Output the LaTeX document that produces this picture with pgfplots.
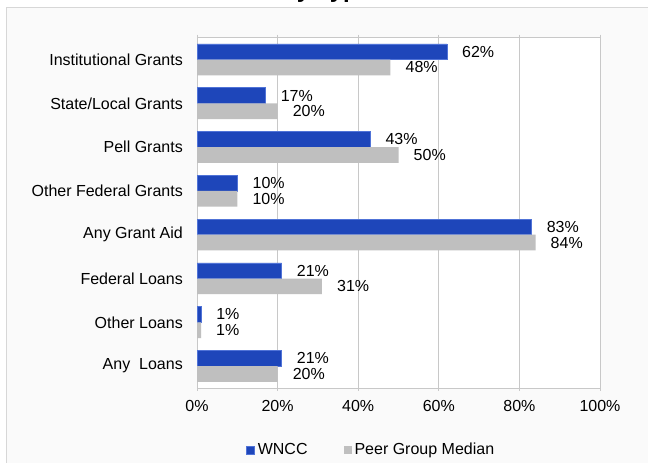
\documentclass[border=0pt]{standalone}
\usepackage{pgfplots}
\pgfplotsset{compat=1.18}
\usepackage{fontspec}
\setmainfont{Liberation Sans}
\definecolor{wblue}{RGB}{30,70,186}
\definecolor{wedge}{RGB}{80,115,215}
\definecolor{pgray}{RGB}{191,191,191}
\definecolor{gridc}{RGB}{200,200,200}
\definecolor{framec}{RGB}{215,215,215}
\definecolor{bgc}{RGB}{250,250,250}
\begin{document}
\fontsize{16bp}{19bp}\selectfont
\begin{tikzpicture}[x=1bp,y=1bp]
\useasboundingbox (0,0) rectangle (648,463);
\clip (0,0) rectangle (648,463);
\fill[white] (0,0) rectangle (648,463);
\fill[bgc] (6.5,-5) rectangle (660,455.5);
\draw[framec, line width=1bp] (6.5,-5) -- (6.5,455.5) -- (660,455.5);
\node[anchor=base west, inner sep=0pt, font=\fontsize{24bp}{28bp}\selectfont\bfseries] at (282,465.5) {by Type};
\begin{axis}[
  at={(197bp,75bp)}, anchor=south west,
  width=403bp, height=350.3bp, scale only axis,
  xbar, bar width=15.7bp,
  xmin=0, xmax=100,
  ymin=-0.5, ymax=7.5,
  axis background/.style={fill=white},
  axis line style={gridc},
  xtick={0,20,40,60,80,100},
  xticklabels={0\%,20\%,40\%,60\%,80\%,100\%},
  xmajorgrids, grid style={gridc, line width=0.8bp},
  tick align=outside,
  x tick style={gridc, line width=0.8bp},
  major tick length=3bp,
  xticklabel style={inner sep=0pt, yshift=-9bp},
  ytick={0,1,2,3,4,5,6,7},
  yticklabels={Any\ \ Loans,Other Loans,Federal Loans,Any Grant Aid,Other Federal Grants,Pell Grants,State/Local Grants,Institutional Grants},
  y tick style={draw=none},
  yticklabel style={inner sep=0pt, xshift=-11bp},
  /pgf/number format/assume math mode=true,
  nodes near coords={\pgfmathprintnumber{\pgfplotspointmeta}\%},
  every node near coord/.append style={anchor=west, inner sep=0pt, xshift=15bp, black},
  legend columns=2,
  legend style={draw=none, fill=none, at={(0.1216,-0.177)}, anchor=west,
    inner sep=0pt, nodes={inner sep=0pt},
    /tikz/every odd column/.append style={column sep=3bp},
    /tikz/every even column/.append style={column sep=36bp}},
  legend image code/.code={\fill[#1] (0bp,-4bp) rectangle (8bp,4bp);},
  clip=false,
]
\addplot[fill=wblue, draw=wedge, line width=0.6bp, bar shift=7.85bp] coordinates {
  (62,7) (17,6) (43,5) (10,4) (83,3) (21,2) (1,1) (21,0)};
\addplot[fill=pgray, draw=none, bar shift=-7.85bp] coordinates {
  (48,7) (20,6) (50,5) (10,4) (84,3) (31,2) (1,1) (20,0)};
\legend{WNCC,Peer Group Median}
\end{axis}
\end{tikzpicture}
\end{document}
